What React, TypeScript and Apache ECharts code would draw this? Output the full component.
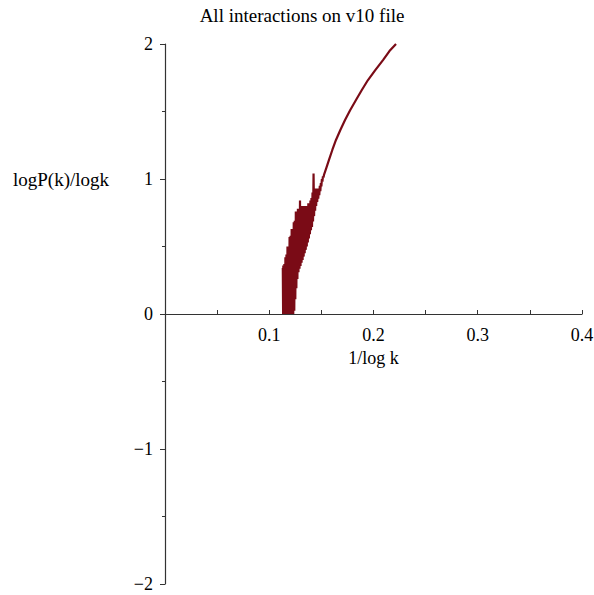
import React, { useEffect, useRef } from "react";
import * as echarts from "echarts";

const titleText = "All interactions on v10 file";
const xAxisName = "1/log k";
const yAxisName = "logP(k)/logk";
const xTickLabels = ["0.1", "0.2", "0.3", "0.4"];
const yTickLabels = ["−2", "−1", "0", "1", "2"];

// 1/log k values (x), in drawing order (k increasing)
const invLogK = [
  0.2216, 0.2153, 0.2091, 0.2017, 0.1947, 0.1888, 0.1832, 0.1777, 0.1727, 0.1682,
  0.164, 0.1605, 0.1573, 0.1547, 0.1525,
  0.152, 0.1515, 0.151, 0.1505, 0.15, 0.1495, 0.149, 0.1485, 0.148, 0.1475,
  0.147, 0.1465, 0.146, 0.1455, 0.145, 0.1445, 0.144, 0.1435, 0.143, 0.1425,
  0.142, 0.1415, 0.141, 0.1405, 0.14, 0.1395, 0.139, 0.1385, 0.138, 0.1375,
  0.137, 0.1365, 0.136, 0.1355, 0.135, 0.1345, 0.134, 0.1335, 0.133, 0.1325,
  0.132, 0.1315, 0.131, 0.1305, 0.13, 0.1295, 0.129, 0.1285, 0.128, 0.1275,
  0.127, 0.1265, 0.126, 0.1255, 0.125, 0.1245, 0.124, 0.1235, 0.123, 0.1225,
  0.122, 0.1215, 0.121, 0.1205, 0.12, 0.1195, 0.119, 0.1185, 0.118, 0.1175,
  0.117, 0.1165, 0.116, 0.1155, 0.115, 0.1145, 0.114, 0.1135, 0.1133, 0.113,
];
// logP(k)/logk values (y), same order
const logRatio = [
  2.0, 1.948, 1.881, 1.807, 1.733, 1.659, 1.585, 1.511, 1.437, 1.363,
  1.289, 1.215, 1.141, 1.081, 1.03,
  1.01, 1.02, 0.98, 1.0, 0.945, 0.97, 0.91, 0.95, 0.88, 0.93,
  0.855, 0.92, 0.83, 0.93, 0.8, 0.92, 0.765, 0.93, 0.725, 1.04,
  0.685, 0.9, 0.645, 0.86, 0.62, 0.84, 0.59, 0.8, 0.56, 0.82,
  0.53, 0.79, 0.5, 0.8, 0.475, 0.78, 0.45, 0.8, 0.425, 0.79,
  0.4, 0.8, 0.38, 0.78, 0.355, 0.84, 0.335, 0.77, 0.31, 0.78,
  0.26, 0.73, 0.19, 0.76, 0.11, 0.69, 0.025, 0.68, 0.0, 0.62,
  0.0, 0.63, 0.0, 0.58, 0.0, 0.57, 0.0, 0.5, 0.0, 0.5,
  0.0, 0.44, 0.0, 0.42, 0.0, 0.37, 0.0, 0.36, 0.0, 0.34,
];

const FONT = "'Liberation Serif', 'Times New Roman', serif";

export default function App() {
  const ref = useRef<HTMLDivElement>(null);
  useEffect(() => {
    document.body.style.margin = "0";
    const chart = echarts.init(ref.current!, null, { renderer: "svg" });
    const data = invLogK.map((x, i) => [x, logRatio[i]]);
    chart.setOption({
      animation: false,
      backgroundColor: "#ffffff",
      grid: { left: 165, right: 12, top: 44, bottom: 11, outerBoundsMode: "none" },
      xAxis: {
        type: "value",
        min: 0,
        max: 0.4,
        interval: 0.05,
        offset: -270,
        name: xAxisName,
        nameLocation: "middle",
        nameGap: 33,
        nameTextStyle: { fontFamily: FONT, fontSize: 18, color: "#000" },
        splitLine: { show: false },
        axisLine: { onZero: false, lineStyle: { color: "#333", width: 1.2 } },
        axisTick: { show: true, inside: true, length: 4, lineStyle: { color: "#333" } },
        axisLabel: {
          margin: 12,
          fontFamily: FONT,
          fontSize: 18,
          color: "#000",
          formatter: (v: number) => {
            const r = Math.round(v * 100);
            if (r === 0 || r % 10 !== 0) return "";
            return xTickLabels[r / 10 - 1] ?? "";
          },
        },
      },
      yAxis: {
        type: "value",
        min: -2,
        max: 2,
        interval: 1,
        splitLine: { show: false },
        axisLine: { show: true, onZero: false, lineStyle: { color: "#333", width: 1.2 } },
        axisTick: { show: true, length: 5, lineStyle: { color: "#333" } },
        minorTick: { show: true, splitNumber: 2, length: 3, lineStyle: { color: "#333" } },
        axisLabel: {
          margin: 12,
          fontFamily: FONT,
          fontSize: 18,
          color: "#000",
          formatter: (v: number) => yTickLabels[Math.round(v) + 2] ?? "",
        },
      },
      graphic: [
        {
          type: "text",
          x: 302,
          y: 15,
          style: {
            text: titleText,
            font: `19px ${FONT}`,
            fill: "#000",
            align: "center",
            verticalAlign: "middle",
          },
        },
        {
          type: "text",
          x: 13,
          y: 179,
          style: {
            text: yAxisName,
            font: `19px ${FONT}`,
            fill: "#000",
            align: "left",
            verticalAlign: "middle",
          },
        },
      ],
      series: [
        {
          type: "line",
          data,
          showSymbol: false,
          symbol: "none",
          lineStyle: { color: "#7a0b16", width: 2.2 },
          itemStyle: { color: "#7a0b16" },
        },
      ],
    });
    return () => chart.dispose();
  }, []);
  return <div ref={ref} style={{ width: 594, height: 595 }} />;
}
